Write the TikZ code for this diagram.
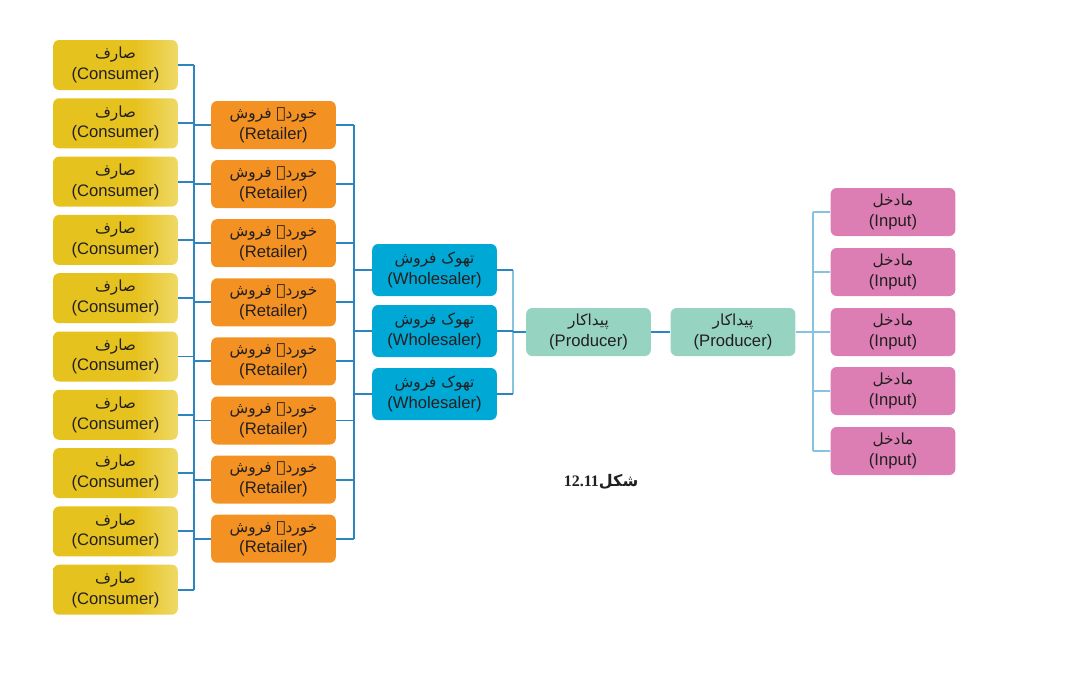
\documentclass[tikz,border=0pt]{standalone}
\usepackage{fontspec}
\setmainfont{Liberation Sans}
\newfontfamily\urdu[Script=Arabic]{DejaVu Sans}
\newfontfamily\capserif{Liberation Serif}
\TeXXeTstate=1
\definecolor{cgold}{HTML}{E6C21F}
\definecolor{cgoldl}{HTML}{EFD966}
\definecolor{corange}{HTML}{F39223}
\definecolor{cblue}{HTML}{00A8D6}
\definecolor{cmint}{HTML}{96D4C1}
\definecolor{cpink}{HTML}{DC7EB3}
\definecolor{ldark}{HTML}{2B85C1}
\definecolor{llight}{HTML}{86C3DF}
\definecolor{ctext}{HTML}{231F20}
\pgfdeclarehorizontalshading{goldshade}{100bp}{color(0bp)=(cgold); color(25bp)=(cgold); color(58bp)=(cgold); color(75bp)=(cgoldl); color(100bp)=(cgoldl)}
\tikzset{
  box/.style={rounded corners=4.5pt, minimum width=93.5pt, minimum height=36pt, inner sep=0pt, align=center, text=ctext, font=\fontsize{12.5}{15.5}\selectfont},
  consumer/.style={box, shading=goldshade, minimum height=37.5pt},
  retailer/.style={box, fill=corange},
  wholesaler/.style={box, fill=cblue, minimum height=39pt},
  producer/.style={box, fill=cmint},
  inputbox/.style={box, fill=cpink},
  dk/.style={draw=ldark, line width=1.4pt},
  lt/.style={draw=llight, line width=1.4pt},
}
\newcommand{\ur}[1]{{\urdu\fontsize{11.5}{15.5}\selectfont\beginR #1\endR}}
\begin{document}
\begin{tikzpicture}[x=0.75pt,y=-0.75pt]
\useasboundingbox (0,0) rectangle (1087,678);
% consumers
\foreach \k in {1,...,10}{
  \node[consumer] (c\k) at (115.5,{65+58.3*(\k-1)}) {\ur{صارف}\\(Consumer)};
}
% retailers
\foreach \k in {1,...,8}{
  \node[retailer] (r\k) at (273.5,{125+59.1*(\k-1)}) {\ur{خوردہ فروش}\\(Retailer)};
}
% wholesalers
\node[wholesaler] (w1) at (434.5,270) {\ur{تھوک فروش}\\(Wholesaler)};
\node[wholesaler] (w2) at (434.5,331) {\ur{تھوک فروش}\\(Wholesaler)};
\node[wholesaler] (w3) at (434.5,394) {\ur{تھوک فروش}\\(Wholesaler)};
% producers
\node[producer] (p1) at (588.5,332) {\ur{پیداکار}\\(Producer)};
\node[producer] (p2) at (733,332) {\ur{پیداکار}\\(Producer)};
% inputs
\node[inputbox] (i1) at (893,212) {\ur{مادخل}\\(Input)};
\node[inputbox] (i2) at (893,272) {\ur{مادخل}\\(Input)};
\node[inputbox] (i3) at (893,332) {\ur{مادخل}\\(Input)};
\node[inputbox] (i4) at (893,391) {\ur{مادخل}\\(Input)};
\node[inputbox] (i5) at (893,451) {\ur{مادخل}\\(Input)};
% bus coordinates
\coordinate (b1) at (194,0);
\coordinate (b2) at (354,0);
\coordinate (b3) at (513,0);
\coordinate (b4) at (813,0);
% consumer -> retailer
\foreach \k in {1,...,10}{ \draw[dk] (c\k.east) -- (c\k.east -| b1); }
\draw[dk] (c1.east -| b1) -- (c10.east -| b1);
\foreach \k in {1,...,8}{ \draw[dk] (r\k.west) -- (r\k.west -| b1); }
% retailer -> wholesaler
\foreach \k in {1,...,8}{ \draw[dk] (r\k.east) -- (r\k.east -| b2); }
\draw[dk] (r1.east -| b2) -- (r8.east -| b2);
\foreach \k in {1,2,3}{ \draw[dk] (w\k.west) -- (w\k.west -| b2); }
% wholesaler -> producer
\draw[lt] (w1.east -| b3) -- (w3.east -| b3);
\foreach \k in {1,2,3}{ \draw[dk] (w\k.east) -- (w\k.east -| b3); }
\draw[dk] (p1.west) -- (p1.west -| b3);
\draw[dk] (p1.east) -- (p2.west);
% producer -> inputs
\draw[lt] (p2.east) -- (p2.east -| b4);
\draw[lt] (i1.west -| b4) -- (i5.west -| b4);
\foreach \k in {1,...,5}{ \draw[lt] (i\k.west) -- (i\k.west -| b4); }
% caption
\node[text=ctext] (cap) at (601,482) {\urdu\bfseries\fontsize{12}{14}\selectfont\beginR شکل\beginL{\capserif\bfseries 12.11}\endL\endR};
\end{tikzpicture}
\end{document}
